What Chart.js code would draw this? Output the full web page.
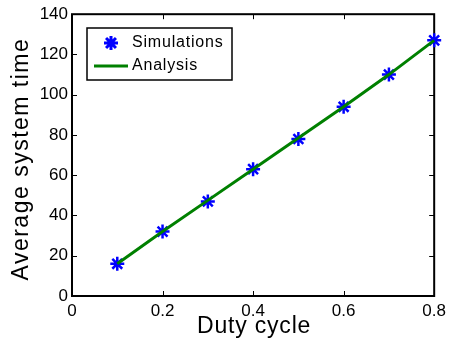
<!DOCTYPE html>
<html>
<head>
<meta charset="utf-8">
<script src="https://cdn.jsdelivr.net/npm/chart.js@4"></script>
<style>
  html, body { margin: 0; padding: 0; background: #fff; }
  #wrap { width: 451px; height: 345px; }
</style>
</head>
<body>
<div id="wrap"><canvas id="chart" width="451" height="345"></canvas></div>
<script>
// --- data ---
const dutyCycle = [0.1, 0.2, 0.3, 0.4, 0.5, 0.6, 0.7, 0.8];
const simulations = [16, 32, 47, 63, 78, 94, 110, 127];
const analysis = [16, 32, 47.5, 63, 78.5, 94, 110, 127];
const xTicks = [0, 0.2, 0.4, 0.6, 0.8];
const yTicks = [0, 20, 40, 60, 80, 100, 120, 140];

const FONT = "'Liberation Sans', Arial, sans-serif";

// box around plot + inward ticks on all sides, legend and axis titles (matlab look)
const boxPlugin = {
    id: 'box',
    beforeDatasetsDraw(chart) {
        const { ctx, chartArea: a, scales } = chart;
        ctx.save();
        ctx.strokeStyle = '#000';
        ctx.lineWidth = 1;
        const len = 5;
        ctx.beginPath();
        xTicks.forEach(v => {
            const x = Math.round(scales.x.getPixelForValue(v)) + 0.5;
            ctx.moveTo(x, a.bottom); ctx.lineTo(x, a.bottom - len);
            ctx.moveTo(x, a.top); ctx.lineTo(x, a.top + len);
        });
        yTicks.forEach(v => {
            const y = Math.round(scales.y.getPixelForValue(v)) + 0.5;
            ctx.moveTo(a.left, y); ctx.lineTo(a.left + len, y);
            ctx.moveTo(a.right, y); ctx.lineTo(a.right - len, y);
        });
        ctx.stroke();
        ctx.lineWidth = 2;
        ctx.strokeRect(a.left, a.top, a.right - a.left, a.bottom - a.top);
        ctx.restore();
    },
    afterDatasetsDraw(chart) {
        const { ctx, chartArea: a } = chart;
        ctx.save();
        // legend box
        const lx = 87, ly = 28, lw = 145, lh = 52;
        ctx.fillStyle = '#fff';
        ctx.fillRect(lx, ly, lw, lh);
        ctx.strokeStyle = '#000';
        ctx.lineWidth = 1.5;
        ctx.strokeRect(lx, ly, lw, lh);
        ctx.font = '16px ' + FONT;
        ctx.letterSpacing = '0.8px';
        ctx.fillStyle = '#000';
        ctx.textBaseline = 'middle';
        ctx.textAlign = 'left';
        ctx.fillText('Simulations', 132, 43);
        ctx.fillText('Analysis', 132, 66);
        // legend markers
        ctx.strokeStyle = '#008000';
        ctx.lineWidth = 3;
        ctx.beginPath();
        ctx.moveTo(94, 66); ctx.lineTo(128, 66);
        ctx.stroke();
        ctx.strokeStyle = '#0000ff';
        ctx.fillStyle = '#0000ff';
        Chart.helpers.drawPoint(ctx, {
            pointStyle: 'star', radius: 7, borderWidth: 2.5
        }, 111, 43);

        // axis titles
        ctx.fillStyle = '#000';
        ctx.font = '23px ' + FONT;
        ctx.textAlign = 'center';
        ctx.textBaseline = 'alphabetic';
        ctx.letterSpacing = '0.8px';
        ctx.fillText('Duty cycle', (a.left + a.right) / 2 + 1, 333);
        ctx.translate(28, (a.top + a.bottom) / 2 + 4);
        ctx.rotate(-Math.PI / 2);
        ctx.letterSpacing = '1.5px';
        ctx.fillText('Average system time', 0, 0);
        ctx.restore();
    }
};

const ctx = document.getElementById('chart').getContext('2d');
new Chart(ctx, {
    type: 'scatter',
    data: {
        datasets: [
            {
                label: 'Simulations',
                data: dutyCycle.map((x, i) => ({ x: x, y: simulations[i] })),
                pointStyle: 'star',
                pointRadius: 7,
                pointBorderWidth: 2.5,
                borderColor: '#0000ff',
                backgroundColor: '#0000ff',
                showLine: false,
                clip: false,
                order: 1
            },
            {
                label: 'Analysis',
                data: dutyCycle.map((x, i) => ({ x: x, y: analysis[i] })),
                showLine: true,
                borderColor: '#008000',
                borderWidth: 3,
                pointRadius: 0,
                clip: false,
                order: 0
            }
        ]
    },
    options: {
        responsive: false,
        animation: false,
        layout: { padding: { top: 14, right: 13, left: 0, bottom: 0 } },
        plugins: {
            legend: { display: false },
            tooltip: { enabled: false }
        },
        scales: {
            x: {
                type: 'linear',
                min: 0, max: 0.8,
                afterBuildTicks: s => { s.ticks = xTicks.map(v => ({ value: v })); },
                afterFit: s => { s.height = 49; },
                grid: { display: false, drawTicks: false },
                border: { display: false },
                ticks: {
                    padding: 5,
                    color: '#000',
                    font: { family: FONT, size: 17 },
                    callback: v => String(v)
                }
            },
            y: {
                min: 0, max: 140,
                afterBuildTicks: s => { s.ticks = yTicks.map(v => ({ value: v })); },
                afterFit: s => { s.width = 72; },
                grid: { display: false, drawTicks: false },
                border: { display: false },
                ticks: {
                    padding: 4,
                    color: '#000',
                    font: { family: FONT, size: 17 }
                }
            }
        }
    },
    plugins: [boxPlugin]
});
</script>
</body>
</html>
